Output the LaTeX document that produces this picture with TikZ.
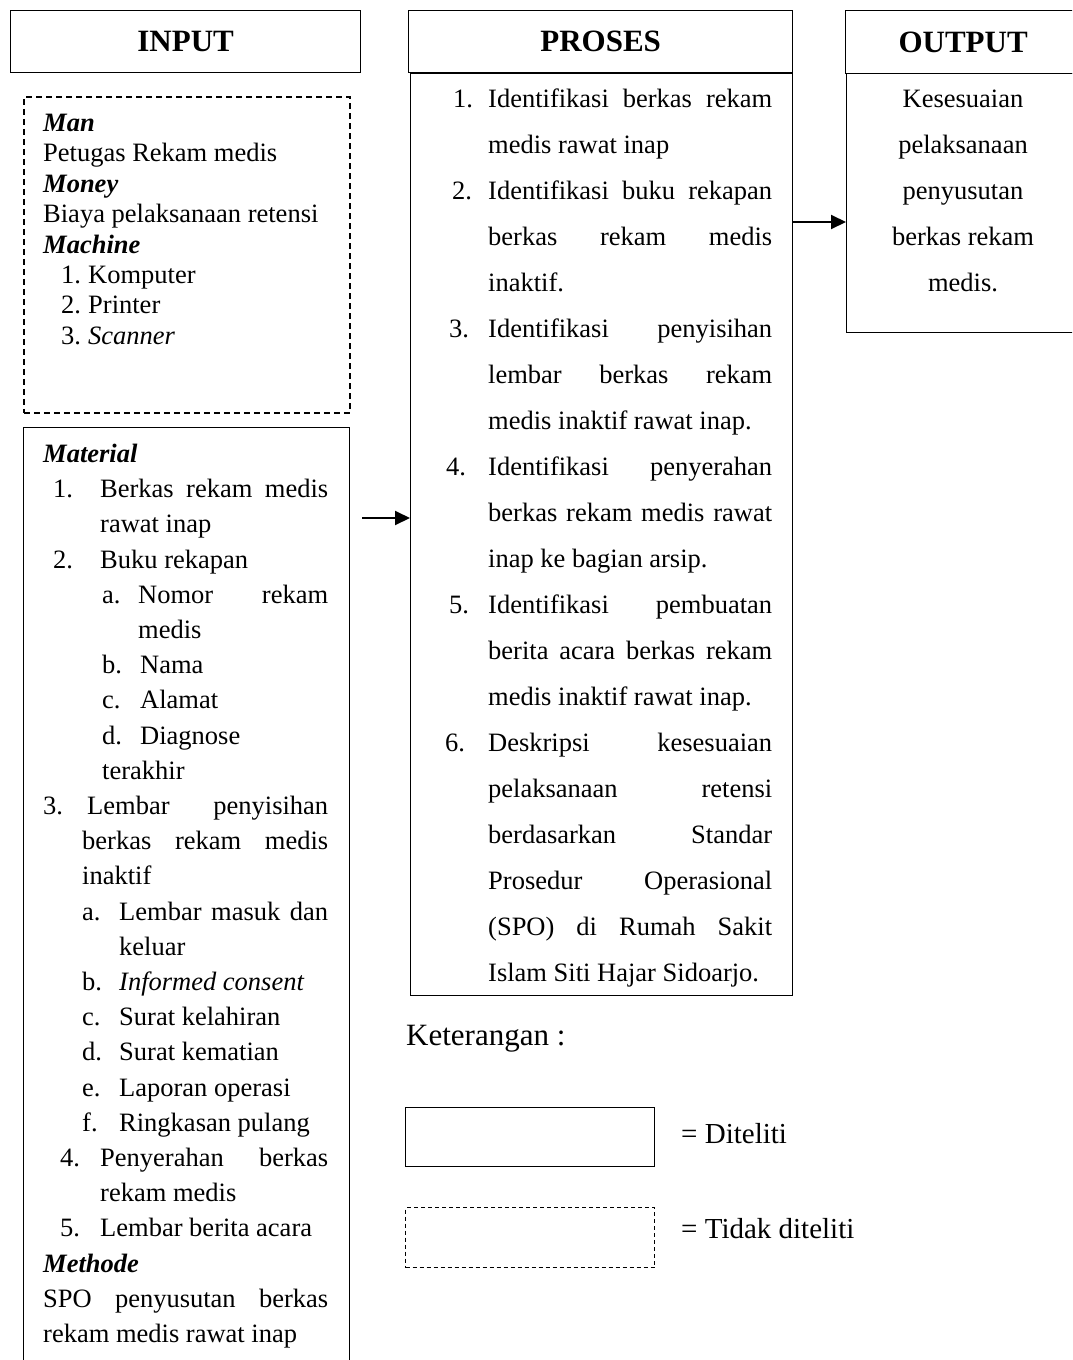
\documentclass[tikz,border=0pt]{standalone}
\usepackage{fontspec}
\setmainfont{Liberation Serif}
\usetikzlibrary{arrows.meta}
\newcommand{\jl}[2]{\makebox[#1pt][s]{#2}}
\newcommand{\bi}[1]{\textbf{\textit{#1}}}
\tikzset{
  box/.style={draw, line width=1.3pt, anchor=north west, inner sep=0pt},
  dbox/.style={draw, line width=1.7pt, dash pattern=on 6pt off 4pt, anchor=north west, inner sep=0pt},
  lgdbox/.style={draw, line width=1.1pt, dash pattern=on 4pt off 3pt, anchor=north west, inner sep=0pt},
  head/.style={font=\fontsize{31}{36}\selectfont\bfseries},
  txt/.style={anchor=base west, inner sep=0pt, font=\fontsize{26.5}{30}\selectfont},
  ctxt/.style={anchor=base, inner sep=0pt, font=\fontsize{26.5}{30}\selectfont},
  lgdtxt/.style={anchor=base west, inner sep=0pt, font=\fontsize{29}{34}\selectfont},
  arr/.style={line width=2pt, -{Triangle[length=15pt,width=14pt]}}
}
\begin{document}
\begin{tikzpicture}[x=1pt,y=-1pt]
\useasboundingbox (0,0) rectangle (1072,1360);
\clip (0,0) rectangle (1072,1360);
% headers
\node[box, head, minimum width=350pt, minimum height=62pt] (ih) at (10,10) {INPUT};
\node[box, head, minimum width=384pt, minimum height=62pt] (ph) at (408,10) {PROSES};
\node[box, head, minimum width=235pt, minimum height=63pt] (oh) at (845,10) {OUTPUT};
% bodies
\node[dbox, minimum width=326pt, minimum height=316pt] (ib) at (23,96) {};
\node[box, minimum width=326pt, minimum height=960pt] (mb) at (23,427) {};
\node[box, minimum width=382pt, minimum height=922pt] (pb) at (410,73) {};
\node[box, minimum width=234pt, minimum height=259pt] (ob) at (846,73) {};
% input dashed box text
\node[txt] (t1) at (43,131) {\bi{Man}};
\node[txt] (t2) at (43,161) {Petugas Rekam medis};
\node[txt] (t3) at (43,192) {\bi{Money}};
\node[txt] (t4) at (43,222) {Biaya pelaksanaan retensi};
\node[txt] (t5) at (43,253) {\bi{Machine}};
\node[txt] (t6n) at (61,283) {1.};
\node[txt] (t6) at (88,283) {Komputer};
\node[txt] (t7n) at (61,313) {2.};
\node[txt] (t7) at (88,313) {Printer};
\node[txt] (t8n) at (61,344) {3.};
\node[txt] (t8) at (88,344) {\textit{Scanner}};
% material box text
\node[txt] (m0) at (43,462) {\bi{Material}};
\node[txt] (m1n) at (53,497) {1.};
\node[txt] (m1) at (100,497) {\jl{228}{Berkas rekam medis}};
\node[txt] (m2) at (100,532) {rawat inap};
\node[txt] (m3n) at (53,568) {2.};
\node[txt] (m3) at (100,568) {Buku rekapan};
\node[txt] (m4n) at (102,603) {a.};
\node[txt] (m4) at (138,603) {\jl{190}{Nomor rekam}};
\node[txt] (m5) at (138,638) {medis};
\node[txt] (m6n) at (102,673) {b.};
\node[txt] (m6) at (140,673) {Nama};
\node[txt] (m7n) at (102,708) {c.};
\node[txt] (m7) at (140,708) {Alamat};
\node[txt] (m8n) at (102,744) {d.};
\node[txt] (m8) at (140,744) {Diagnose};
\node[txt] (m9) at (102,779) {terakhir};
\node[txt] (m10n) at (43,814) {3.};
\node[txt] (m10) at (87,814) {\jl{241}{Lembar penyisihan}};
\node[txt] (m11) at (82,849) {\jl{246}{berkas rekam medis}};
\node[txt] (m12) at (82,884) {inaktif};
\node[txt] (m13n) at (82,920) {a.};
\node[txt] (m13) at (119,920) {\jl{209}{Lembar masuk dan}};
\node[txt] (m14) at (119,955) {keluar};
\node[txt] (m15n) at (82,990) {b.};
\node[txt] (m15) at (119,990) {\textit{Informed consent}};
\node[txt] (m16n) at (82,1025) {c.};
\node[txt] (m16) at (119,1025) {Surat kelahiran};
\node[txt] (m17n) at (82,1060) {d.};
\node[txt] (m17) at (119,1060) {Surat kematian};
\node[txt] (m18n) at (82,1096) {e.};
\node[txt] (m18) at (119,1096) {Laporan operasi};
\node[txt] (m19n) at (82,1131) {f.};
\node[txt] (m19) at (119,1131) {Ringkasan pulang};
\node[txt] (m20n) at (60,1166) {4.};
\node[txt] (m20) at (100,1166) {\jl{228}{Penyerahan berkas}};
\node[txt] (m21) at (100,1201) {rekam medis};
\node[txt] (m22n) at (60,1236) {5.};
\node[txt] (m22) at (100,1236) {Lembar berita acara};
\node[txt] (m23) at (43,1272) {\bi{Methode}};
\node[txt] (m24) at (43,1307) {\jl{285}{SPO penyusutan berkas}};
\node[txt] (m25) at (43,1342) {rekam medis rawat inap};
% proses text
\node[txt] (p0n) at (453,107) {1.};
\node[txt] (p0) at (488,107) {\jl{284}{Identifikasi berkas rekam}};
\node[txt] (p1) at (488,153) {medis rawat inap};
\node[txt] (p2n) at (452,199) {2.};
\node[txt] (p2) at (488,199) {\jl{284}{Identifikasi buku rekapan}};
\node[txt] (p3) at (488,245) {\jl{284}{berkas rekam medis}};
\node[txt] (p4) at (488,291) {inaktif.};
\node[txt] (p5n) at (449,337) {3.};
\node[txt] (p5) at (488,337) {\jl{284}{Identifikasi penyisihan}};
\node[txt] (p6) at (488,383) {\jl{284}{lembar berkas rekam}};
\node[txt] (p7) at (488,429) {medis inaktif rawat inap.};
\node[txt] (p8n) at (446,475) {4.};
\node[txt] (p8) at (488,475) {\jl{284}{Identifikasi penyerahan}};
\node[txt] (p9) at (488,521) {\jl{284}{berkas rekam medis rawat}};
\node[txt] (p10) at (488,567) {inap ke bagian arsip.};
\node[txt] (p11n) at (449,613) {5.};
\node[txt] (p11) at (488,613) {\jl{284}{Identifikasi pembuatan}};
\node[txt] (p12) at (488,659) {\jl{284}{berita acara berkas rekam}};
\node[txt] (p13) at (488,705) {medis inaktif rawat inap.};
\node[txt] (p14n) at (445,751) {6.};
\node[txt] (p14) at (488,751) {\jl{284}{Deskripsi kesesuaian}};
\node[txt] (p15) at (488,797) {\jl{284}{pelaksanaan retensi}};
\node[txt] (p16) at (488,843) {\jl{284}{berdasarkan Standar}};
\node[txt] (p17) at (488,889) {\jl{284}{Prosedur Operasional}};
\node[txt] (p18) at (488,935) {\jl{284}{(SPO) di Rumah Sakit}};
\node[txt] (p19) at (488,981) {Islam Siti Hajar Sidoarjo.};
% output text
\node[ctxt] (o0) at (963,107) {Kesesuaian};
\node[ctxt] (o1) at (963,153) {pelaksanaan};
\node[ctxt] (o2) at (963,199) {penyusutan};
\node[ctxt] (o3) at (963,245) {berkas rekam};
\node[ctxt] (o4) at (963,291) {medis.};
% connectors
\coordinate (a1) at (362,518);
\coordinate (a2) at (800,222);
\draw[arr] (a1) -- (pb.west |- a1);
\draw[arr] (pb.east |- a2) -- (ob.west |- a2);
% legend
\node[anchor=base west, inner sep=0pt, font=\fontsize{31}{36}\selectfont] (ket) at (406,1045) {Keterangan :};
\node[box, line width=1.1pt, minimum width=249pt, minimum height=59pt] (ls) at (405,1107) {};
\node[lgdbox, minimum width=249pt, minimum height=60pt] (ld) at (405,1207) {};
\node[lgdtxt] (lt1) at (681,1143) {= Diteliti};
\node[lgdtxt] (lt2) at (681,1238) {= Tidak diteliti};
\end{tikzpicture}
\end{document}
